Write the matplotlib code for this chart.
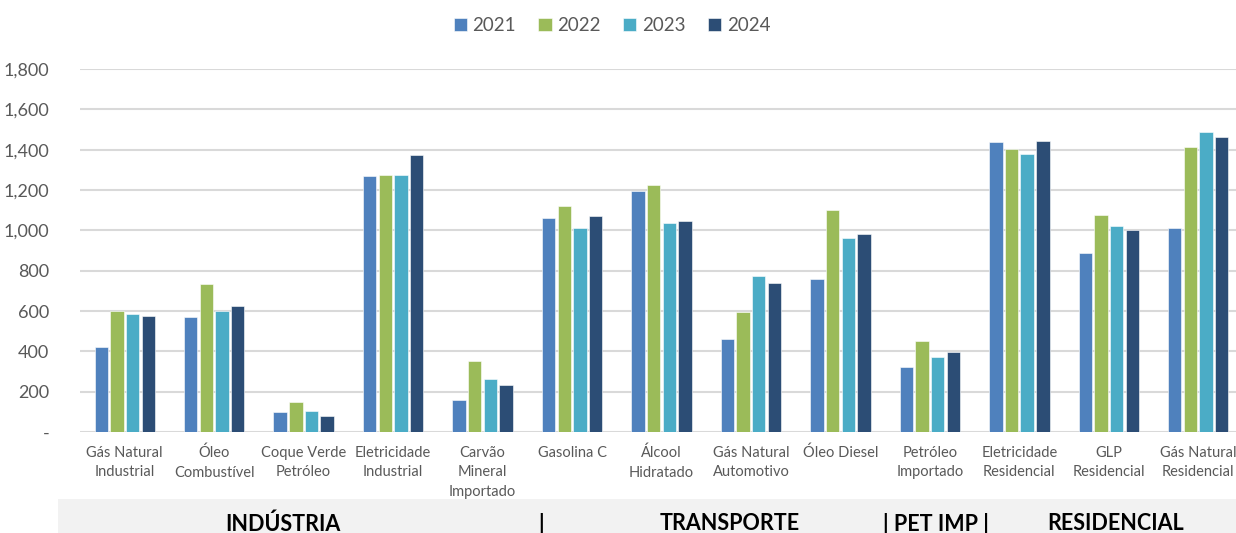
import numpy as np
import matplotlib
matplotlib.use("Agg")
import matplotlib.pyplot as plt
from matplotlib.patches import Rectangle

plt.rcParams['font.family'] = ['Lato', 'DejaVu Sans']

categories = ["Gás Natural\nIndustrial", "Óleo\nCombustível", "Coque Verde\nPetróleo",
              "Eletricidade\nIndustrial", "Carvão\nMineral\nImportado", "Gasolina C",
              "Álcool\nHidratado", "Gás Natural\nAutomotivo", "Óleo Diesel",
              "Petróleo\nImportado", "Eletricidade\nResidencial", "GLP\nResidencial",
              "Gás Natural\nResidencial"]
years = ["2021", "2022", "2023", "2024"]
v2021 = [420, 568, 99, 1268, 159, 1060, 1196, 460, 759, 322, 1436, 886, 1010]
v2022 = [600, 732, 147, 1273, 350, 1119, 1223, 597, 1099, 450, 1403, 1076, 1415]
v2023 = [585, 600, 104, 1273, 263, 1010, 1038, 772, 962, 372, 1377, 1021, 1486]
v2024 = [573, 623, 78, 1372, 231, 1070, 1045, 737, 983, 395, 1441, 1000, 1464]
sectors = ["INDÚSTRIA", "|", "TRANSPORTE", "| PET IMP |", "RESIDENCIAL"]
sector_x = [283, 541, 730, 936, 1116]

colors = ['#4F81BD', '#9BBB59', '#4BACC6', '#2C4D75']
series = [v2021, v2022, v2023, v2024]

W, H = 1236, 533
fig = plt.figure(figsize=(W/100, H/100), dpi=100)
ax = fig.add_axes([80/W, 101/H, 1163/W, 363/H])

x = np.arange(len(categories))
step = 0.175
width = 0.15
for i, (yr, vals) in enumerate(zip(years, series)):
    ax.bar(x + (i - 1.5)*step, vals, width=width, color=colors[i],
           edgecolor='white', linewidth=0.4, label=yr, zorder=3)

ax.set_xlim(-0.5, len(categories) - 0.5)
ax.set_ylim(0, 1800)
ax.set_yticks(range(0, 1801, 200))
ax.set_yticklabels(["-"] + [f"{v:,}" for v in range(200, 1801, 200)])
ax.set_xticks(x)
ax.set_xticklabels(categories, linespacing=1.5)
ax.tick_params(axis='y', length=0, pad=22, labelsize=13, labelcolor='#595959')
ax.tick_params(axis='x', length=0, pad=10, labelsize=10.5, labelcolor='#595959')
ax.yaxis.grid(True, color='#D9D9D9', linewidth=1.5, zorder=0)
ax.set_axisbelow(True)
for s in ax.spines.values():
    s.set_visible(False)

fig.legend(loc='upper center', bbox_to_anchor=(0.495, 1.0), ncol=4, frameon=False,
           fontsize=13.5, handlelength=0.7, handleheight=0.7, handletextpad=0.3,
           columnspacing=1.2, labelcolor='#595959')

fig.patches.append(Rectangle((58/W, 0), 1 - 58/W, 34/H, transform=fig.transFigure,
                             facecolor='#F2F2F2', edgecolor='none', zorder=0))
for s, sx in zip(sectors, sector_x):
    fig.text(sx/W, 9/H, s, ha='center', va='center', fontsize=15.5,
             fontweight='bold', color='black')

fig.savefig("out.png", dpi=100)
